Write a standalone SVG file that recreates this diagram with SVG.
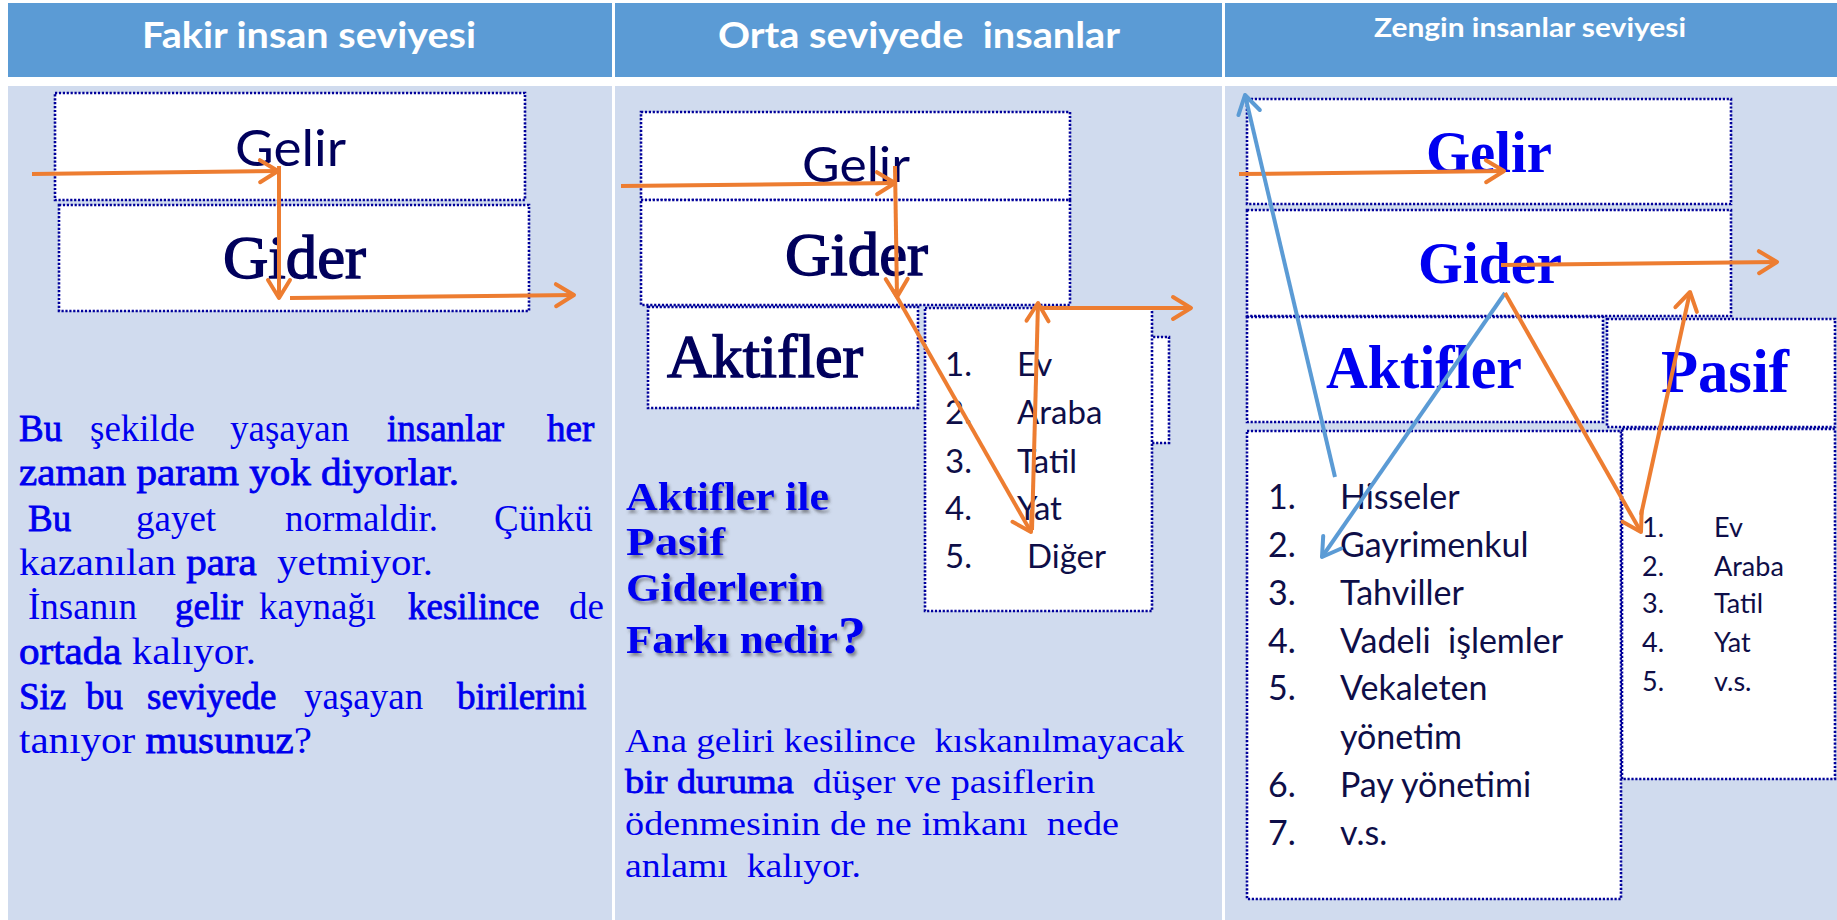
<svg xmlns="http://www.w3.org/2000/svg" width="1837" height="920" viewBox="0 0 1837 920">
<defs>
<style>
.hdr{fill:#5B9BD5}
.body{fill:#D0DBEE}
.box{fill:#FFFFFF;stroke:#00009A;stroke-width:2.6;stroke-dasharray:2.2 1.7}
.ht{font-family:Lato,"Liberation Sans",sans-serif;font-weight:bold;fill:#FFFFFF}
.sl{font-family:Lato,"Liberation Sans",sans-serif;fill:#00005C}
.nl{font-family:"Liberation Serif","Times New Roman",serif;fill:#00005C;stroke:#00005C;stroke-width:1.4}
.bl{font-family:"Liberation Serif","Times New Roman",serif;font-weight:bold;fill:#0000F0}
.li{font-family:Lato,"Liberation Sans",sans-serif;fill:#0E0E48}
.p{font-family:"Liberation Serif","Times New Roman",serif;fill:#0000EE;white-space:pre}
.b{stroke:#0000EE;stroke-width:0.8}
.q{font-family:"Liberation Serif","Times New Roman",serif;font-weight:bold;fill:#0000F0;filter:url(#sh)}
.oa{fill:none;stroke:#ED7D31;stroke-width:4;marker-end:url(#ao)}
.ba{fill:none;stroke:#5B9BD5;stroke-width:4;marker-end:url(#ab)}
</style>
<marker id="ao" viewBox="0 0 30 30" refX="24" refY="15" markerWidth="30" markerHeight="30" markerUnits="userSpaceOnUse" orient="auto">
<path d="M6,4 L24,15 L6,26" fill="none" stroke="#ED7D31" stroke-width="4" stroke-linecap="round" stroke-linejoin="round"/>
</marker>
<marker id="ab" viewBox="0 0 30 30" refX="24" refY="15" markerWidth="30" markerHeight="30" markerUnits="userSpaceOnUse" orient="auto">
<path d="M6,4 L24,15 L6,26" fill="none" stroke="#5B9BD5" stroke-width="4" stroke-linecap="round" stroke-linejoin="round"/>
</marker>
<filter id="sh" x="-10%" y="-20%" width="130%" height="160%">
<feDropShadow dx="2" dy="3" stdDeviation="1.6" flood-color="#404040" flood-opacity="0.55"/>
</filter>
</defs>
<rect width="1837" height="920" fill="#FFFFFF"/>

<g id="columns">
<rect class="hdr" x="8" y="3" width="604" height="74"/>
<rect class="hdr" x="615" y="3" width="607" height="74"/>
<rect class="hdr" x="1225" y="3" width="612" height="74"/>
<rect class="body" x="8" y="86" width="604" height="834"/>
<rect class="body" x="615" y="86" width="607" height="834"/>
<rect class="body" x="1225" y="86" width="612" height="834"/>
<text class="ht" x="142" y="48" font-size="36" textLength="334" lengthAdjust="spacingAndGlyphs">Fakir insan seviyesi</text>
<text class="ht" x="718" y="48" font-size="36" textLength="402" lengthAdjust="spacingAndGlyphs" style="white-space:pre">Orta seviyede  insanlar</text>
<text class="ht" x="1374" y="37" font-size="27" textLength="312" lengthAdjust="spacingAndGlyphs">Zengin insanlar seviyesi</text>
</g>

<g id="c1-gelir">
<rect class="box" x="55" y="93" width="470" height="107"/>
<text class="sl" x="235" y="166" font-size="51" textLength="111" lengthAdjust="spacingAndGlyphs">Gelir</text>
</g>
<g id="c1-gider">
<rect class="box" x="59" y="205" width="470" height="106"/>
<text class="nl" x="223" y="278" font-size="62" textLength="143" lengthAdjust="spacingAndGlyphs">Gider</text>
</g>

<g id="c1-text">
<text class="p" font-size="37">
<tspan class="b" x="19" y="441">Bu</tspan><tspan x="90" y="441">şekilde</tspan><tspan x="230" y="441">yaşayan</tspan><tspan class="b" x="387" y="441">insanlar</tspan><tspan class="b" x="547" y="441">her</tspan>
</text>
<text class="p b" x="19" y="485" font-size="37" textLength="440" lengthAdjust="spacingAndGlyphs">zaman param yok diyorlar.</text>
<text class="p" font-size="37">
<tspan class="b" x="28" y="531">Bu</tspan><tspan x="136" y="531">gayet</tspan><tspan x="285" y="531">normaldir.</tspan><tspan x="494" y="531">Çünkü</tspan>
</text>
<text class="p" x="19" y="575" font-size="37" textLength="414" lengthAdjust="spacingAndGlyphs">kazanılan <tspan class="b">para</tspan>  yetmiyor.</text>
<text class="p" font-size="37">
<tspan x="28" y="619">İnsanın</tspan><tspan class="b" x="175" y="619">gelir</tspan><tspan x="259" y="619">kaynağı</tspan><tspan class="b" x="408" y="619">kesilince</tspan><tspan x="569" y="619">de</tspan>
</text>
<text class="p" x="19" y="664" font-size="37" textLength="237" lengthAdjust="spacingAndGlyphs"><tspan class="b">ortada</tspan> kalıyor.</text>
<text class="p" font-size="37">
<tspan class="b" x="19" y="709">Siz</tspan><tspan class="b" x="86" y="709">bu</tspan><tspan class="b" x="147" y="709">seviyede</tspan><tspan x="304" y="709">yaşayan</tspan><tspan class="b" x="457" y="709">birilerini</tspan>
</text>
<text class="p" x="19" y="753" font-size="37" textLength="293" lengthAdjust="spacingAndGlyphs">tanıyor <tspan class="b">musunuz</tspan>?</text>
</g>

<g id="c2-gelir">
<rect class="box" x="641" y="112" width="429" height="88"/>
<text class="sl" x="802" y="182" font-size="49" textLength="108" lengthAdjust="spacingAndGlyphs">Gelir</text>
</g>
<g id="c2-gider">
<rect class="box" x="641" y="200" width="429" height="105"/>
<text class="nl" x="785" y="275" font-size="62" textLength="143" lengthAdjust="spacingAndGlyphs">Gider</text>
</g>
<g id="c2-aktifler">
<rect class="box" x="648" y="307" width="270" height="101"/>
<text class="nl" x="667" y="377" font-size="62" textLength="196" lengthAdjust="spacingAndGlyphs">Aktifler</text>
</g>
<g id="c2-hidden">
<rect class="box" x="1040" y="337" width="129" height="106"/>
</g>
<g id="c2-list">
<rect class="box" x="925" y="308" width="227" height="303"/>
<text class="li" font-size="33">
<tspan x="945" y="376">1.</tspan><tspan x="1017" y="376">Ev</tspan>
<tspan x="945" y="424">2.</tspan><tspan x="1017" y="424">Araba</tspan>
<tspan x="945" y="473">3.</tspan><tspan x="1017" y="473">Tatil</tspan>
<tspan x="945" y="520">4.</tspan><tspan x="1017" y="520">Yat</tspan>
<tspan x="945" y="568">5.</tspan><tspan x="1027" y="568">Diğer</tspan>
</text>
</g>
<g id="c2-question">
<text class="q" x="626" y="510" font-size="40" textLength="203" lengthAdjust="spacingAndGlyphs">Aktifler ile</text>
<text class="q" x="626" y="555" font-size="40" textLength="99" lengthAdjust="spacingAndGlyphs">Pasif</text>
<text class="q" x="626" y="601" font-size="40" textLength="198" lengthAdjust="spacingAndGlyphs">Giderlerin</text>
<text class="q" x="626" y="653" font-size="40" textLength="240" lengthAdjust="spacingAndGlyphs">Farkı nedir<tspan font-size="52">?</tspan></text>
</g>
<g id="c2-text">
<text class="p" x="625" y="752" font-size="33" textLength="559" lengthAdjust="spacingAndGlyphs">Ana geliri kesilince  kıskanılmayacak</text>
<text class="p" x="625" y="793" font-size="33" textLength="470" lengthAdjust="spacingAndGlyphs"><tspan class="b">bir duruma</tspan>  düşer ve pasiflerin</text>
<text class="p" x="625" y="835" font-size="33" textLength="494" lengthAdjust="spacingAndGlyphs">ödenmesinin de ne imkanı  nede</text>
<text class="p" x="625" y="877" font-size="33" textLength="236" lengthAdjust="spacingAndGlyphs">anlamı  kalıyor.</text>
</g>

<g id="c3-gelir">
<rect class="box" x="1247" y="99" width="484" height="105"/>
<text class="bl" x="1426" y="172" font-size="60" textLength="126" lengthAdjust="spacingAndGlyphs">Gelir</text>
</g>
<g id="c3-gider">
<rect class="box" x="1247" y="210" width="484" height="106"/>
<text class="bl" x="1418" y="283" font-size="60" textLength="144" lengthAdjust="spacingAndGlyphs">Gider</text>
</g>
<g id="c3-aktifler">
<rect class="box" x="1247" y="317" width="356" height="105"/>
<text class="bl" x="1326" y="388" font-size="62" textLength="196" lengthAdjust="spacingAndGlyphs">Aktifler</text>
</g>
<g id="c3-pasif">
<rect class="box" x="1607" y="319" width="228" height="108"/>
<text class="bl" x="1661" y="392" font-size="62" textLength="128" lengthAdjust="spacingAndGlyphs">Pasif</text>
</g>
<g id="c3-aktif-list">
<rect class="box" x="1247" y="431" width="374" height="468"/>
<text class="li" font-size="34" style="white-space:pre">
<tspan x="1268" y="509">1.</tspan><tspan x="1340" y="509">Hisseler</tspan>
<tspan x="1268" y="557">2.</tspan><tspan x="1340" y="557">Gayrimenkul</tspan>
<tspan x="1268" y="605">3.</tspan><tspan x="1340" y="605">Tahviller</tspan>
<tspan x="1268" y="653">4.</tspan><tspan x="1340" y="653">Vadeli  işlemler</tspan>
<tspan x="1268" y="700">5.</tspan><tspan x="1340" y="700">Vekaleten</tspan>
<tspan x="1340" y="749">yönetim</tspan>
<tspan x="1268" y="797">6.</tspan><tspan x="1340" y="797">Pay yönetimi</tspan>
<tspan x="1268" y="845">7.</tspan><tspan x="1340" y="845">v.s.</tspan>
</text>
</g>
<g id="c3-pasif-list">
<rect class="box" x="1622" y="429" width="213" height="350"/>
<text class="li" font-size="27">
<tspan x="1642" y="537">1.</tspan><tspan x="1714" y="537">Ev</tspan>
<tspan x="1642" y="576">2.</tspan><tspan x="1714" y="576">Araba</tspan>
<tspan x="1642" y="613">3.</tspan><tspan x="1714" y="613">Tatil</tspan>
<tspan x="1642" y="652">4.</tspan><tspan x="1714" y="652">Yat</tspan>
<tspan x="1642" y="691">5.</tspan><tspan x="1714" y="691">v.s.</tspan>
</text>
</g>

<g id="connectors">
<path class="oa" d="M32,174 L278,171"/>
<path class="oa" d="M279,166 L279,298"/>
<path class="oa" d="M290,298 L574,295"/>
<path class="oa" d="M621,186 L895,183"/>
<path class="oa" d="M895,166 L897,297"/>
<path class="oa" d="M893,290 L1031,532"/>
<path class="oa" d="M1032,530 L1038,303"/>
<path class="oa" d="M1040,308 L1191,308"/>
<path class="oa" d="M1239,174 L1504,171"/>
<path class="oa" d="M1501,265 L1777,262"/>
<path class="ba" d="M1335,477 L1245,95"/>
<path class="ba" d="M1505,293 L1322,557"/>
<path class="oa" d="M1505,293 L1641,532"/>
<path class="oa" d="M1641,515 L1690,292"/>
</g>
</svg>
